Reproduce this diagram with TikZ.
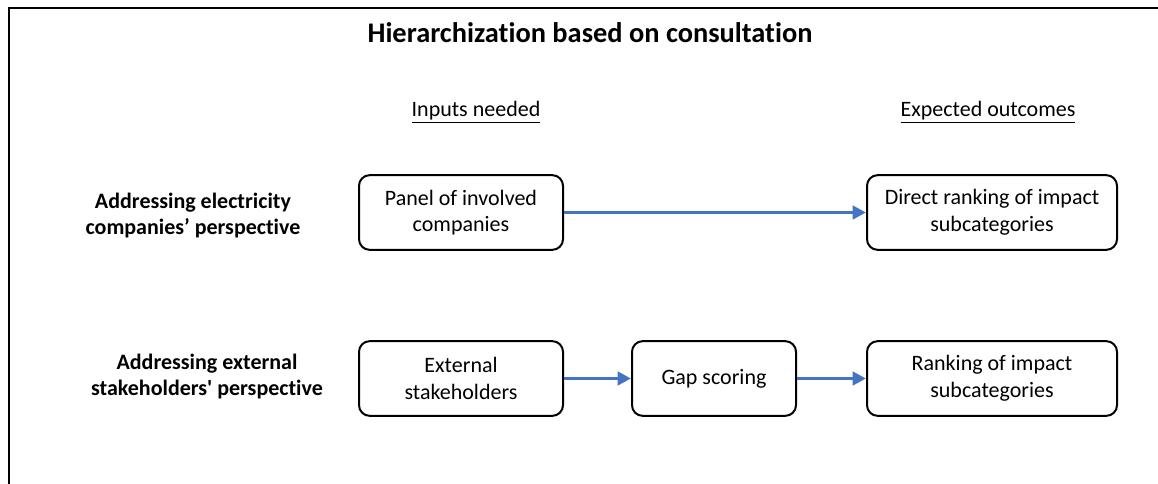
\documentclass[tikz,border=0pt]{standalone}
\usepackage{fontspec}
\setmainfont{Carlito}[Ligatures={TeXOff,NoCommon}]
\usetikzlibrary{arrows.meta}
\definecolor{arrowblue}{HTML}{4472C4}
\begin{document}
\begin{tikzpicture}[x=0.75pt,y=-0.75pt,
  bx/.style={draw=black,line width=1.5pt,rounded corners=8pt,align=center,font=\fontsize{16.5}{20}\selectfont,inner sep=0pt,minimum height=56pt},
  hd/.style={font=\fontsize{16.5}{20}\selectfont},
  lbl/.style={align=center,font=\bfseries\fontsize{16.5}{19.5}\selectfont},
  ar/.style={draw=arrowblue,line width=2.8pt,-{Triangle[length=10pt,width=10pt]}}]
\useasboundingbox (0,0) rectangle (1158,483);
\draw[line width=1.5pt] (9,490) -- (9,8) -- (1165,8);
\node[font=\bfseries\fontsize{21.3}{25}\selectfont] (title) at (590,33) {Hierarchization based on consultation};
\node[hd] (inp) at (476,112) {\underline{Inputs needed}};
\node[hd] (out) at (988,112) {\underline{Expected outcomes}};
\node[lbl] (l1) at (193,215.5) {Addressing electricity\\companies’ perspective};
\node[lbl] (l2) at (207,376.5) {Addressing external\\stakeholders' perspective};
\node[bx,minimum width=153pt] (A) at (461,212.5) {Panel of involved\\companies};
\node[bx,minimum width=187.5pt] (B) at (992,212.5) {Direct ranking of impact\\subcategories};
\node[bx,minimum width=153pt] (C) at (461,378.5) {External\\stakeholders};
\node[bx,minimum width=123pt] (D) at (714,378.5) {Gap scoring};
\node[bx,minimum width=187.5pt] (E) at (992,378.5) {Ranking of impact\\subcategories};
\draw[ar] (A) -- (B);
\draw[ar] (C) -- (D);
\draw[ar] (D) -- (E);
\end{tikzpicture}
\end{document}
